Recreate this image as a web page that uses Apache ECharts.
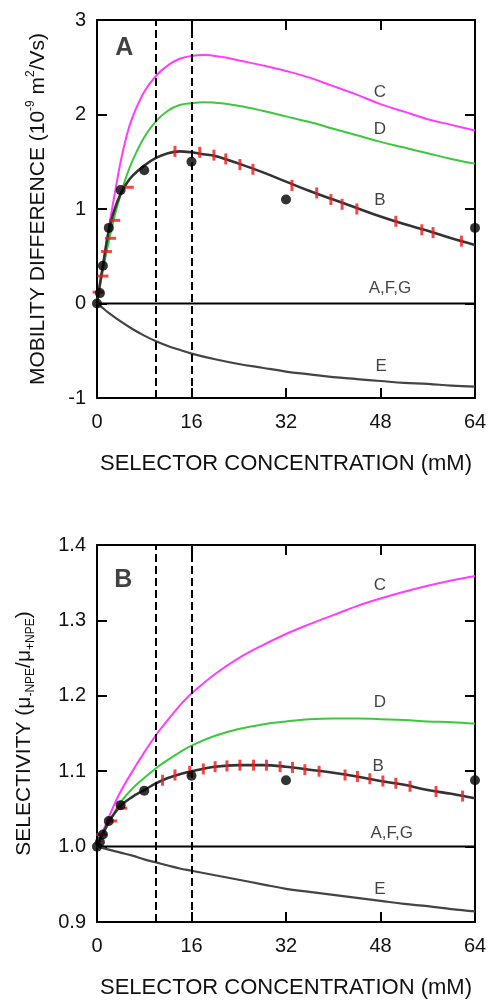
<!DOCTYPE html>
<html>
<head>
<meta charset="utf-8">
<script src="https://cdn.jsdelivr.net/npm/echarts@6/dist/echarts.min.js"></script>
<style>
  html, body { margin: 0; padding: 0; background: #fff; }
  #chart { width: 490px; height: 1000px; }
</style>
</head>
<body>
<div id="chart"></div>
<script>
// shared x axis
const concMin = 0, concMax = 64, concStep = 16;
const guideConc = [10, 16]; // dashed guide lines (mM)

// ---- panel A : mobility difference (1e-9 m2/Vs) ----
const mobC = [[0,0],[1,0.4],[2,0.8],[3,1.16],[4,1.5],[5,1.77],[6,1.97],[8,2.24],[10,2.41],[12,2.52],[14,2.59],[16,2.62],[18,2.63],[21,2.61],[25,2.56],[28,2.52],[32,2.46],[36,2.39],[40,2.3],[44,2.21],[48,2.11],[52,2.03],[56,1.95],[60,1.89],[64,1.83]];
const mobD = [[0,0],[1,0.35],[2,0.66],[3,0.93],[4,1.15],[5,1.35],[6,1.51],[8,1.76],[10,1.93],[12,2.04],[14,2.1],[16,2.12],[18,2.13],[21,2.12],[25,2.08],[28,2.04],[32,1.98],[36,1.92],[40,1.85],[44,1.78],[48,1.71],[52,1.65],[56,1.59],[60,1.53],[64,1.48]];
const mobB = [[0,0],[0.5,0.21],[1,0.4],[2,0.77],[3,1.0],[4,1.16],[5,1.27],[6,1.35],[8,1.46],[10,1.54],[12,1.59],[14,1.61],[16,1.6],[18,1.58],[20,1.56],[24,1.48],[28,1.39],[32,1.29],[36,1.19],[40,1.1],[44,1.01],[48,0.92],[52,0.84],[56,0.77],[60,0.69],[64,0.62]];
const mobE = [[0,0],[1,-0.05],[2,-0.1],[4,-0.19],[6,-0.27],[8,-0.34],[10,-0.4],[12,-0.45],[14,-0.49],[16,-0.53],[20,-0.59],[24,-0.64],[28,-0.68],[32,-0.72],[36,-0.75],[40,-0.78],[44,-0.8],[48,-0.82],[52,-0.84],[56,-0.85],[60,-0.87],[64,-0.88]];
const mobAFG = [[0,0],[64,0]];
const mobPoints = [[0,0],[0.5,0.11],[1,0.4],[2,0.8],[4,1.2],[8,1.41],[16,1.5],[32,1.1],[64,0.8]];
const mobTicksSteep = [[0.2,0.12],[1.0,0.29],[1.6,0.55],[2.3,0.69],[3.0,0.88],[5.3,1.23]];
const mobTicks = [[13.2,1.61],[17.4,1.6],[19.8,1.57],[21.8,1.53],[24.2,1.47],[26.4,1.42],[33,1.25],[37.2,1.17],[39.6,1.1],[41.5,1.05],[44,1.0],[50.6,0.87],[55,0.78],[56.9,0.75],[61.7,0.66]];
const mobLabels = [['C',47.9,2.23],['D',47.9,1.84],['B',47.9,1.095],['A,F,G',49.6,0.16],['E',48.1,-0.66]];
const mobTag = ['A', 4.6, 2.7];

// ---- panel B : selectivity ----
const selC = [[0,1.0],[1,1.02],[2,1.039],[3,1.057],[4,1.073],[6,1.1],[8,1.125],[10,1.148],[12,1.168],[14,1.187],[16,1.203],[20,1.229],[24,1.25],[28,1.267],[32,1.282],[36,1.295],[40,1.307],[44,1.319],[48,1.329],[52,1.338],[56,1.346],[60,1.353],[64,1.359]];
const selD = [[0,1.0],[1,1.016],[2,1.031],[3,1.046],[4,1.059],[6,1.077],[8,1.091],[10,1.104],[12,1.115],[14,1.125],[16,1.134],[20,1.147],[24,1.156],[28,1.162],[32,1.166],[36,1.169],[40,1.17],[44,1.17],[48,1.169],[52,1.168],[56,1.166],[60,1.165],[64,1.163]];
const selB = [[0,1.0],[0.5,1.009],[1,1.017],[2,1.033],[4,1.054],[6,1.066],[8,1.075],[10,1.084],[12,1.091],[14,1.096],[16,1.1],[20,1.106],[24,1.108],[28,1.108],[32,1.106],[36,1.102],[40,1.098],[44,1.093],[48,1.087],[52,1.082],[56,1.075],[60,1.07],[64,1.064]];
const selE = [[0,1.0],[2,0.996],[4,0.992],[6,0.988],[8,0.983],[10,0.979],[12,0.975],[14,0.971],[16,0.968],[20,0.962],[24,0.956],[28,0.95],[32,0.944],[36,0.94],[40,0.936],[44,0.932],[48,0.928],[52,0.924],[56,0.921],[60,0.917],[64,0.914]];
const selAFG = [[0,1.0],[64,1.0]];
const selPoints = [[0,1.0],[0.5,1.006],[1,1.016],[2,1.034],[4,1.055],[8,1.074],[16,1.094],[32,1.088],[64,1.088]];
const selTicksSteep = [[0.8,1.016],[2.5,1.034],[4.2,1.051]];
const selTicks = [[11.1,1.088],[13.2,1.095],[15.7,1.1],[18,1.103],[20,1.106],[22,1.107],[24.2,1.108],[26.5,1.108],[28.7,1.108],[31,1.106],[33.1,1.105],[35.2,1.102],[37.6,1.1],[42,1.095],[44.1,1.093],[46.2,1.09],[48.4,1.087],[50.6,1.084],[53,1.08],[57.4,1.073],[61.9,1.067]];
const selLabels = [['C',47.9,1.347],['D',47.9,1.192],['B',47.6,1.106],['A,F,G',49.9,1.018],['E',47.9,0.944]];
const selTag = ['B', 4.45, 1.354];

const FONT = 'Liberation Sans, Arial, sans-serif';
const INK = '#111';

const chart = echarts.init(document.getElementById('chart'));

function xAxes(g) {
  const base = {
    gridIndex: g, type: 'value', min: concMin, max: concMax, interval: concStep,
    splitLine: { show: false },
    axisLine: { onZero: false, lineStyle: { color: '#000', width: 2 } },
    axisTick: { inside: true, length: 10, lineStyle: { color: '#000', width: 2 } }
  };
  return [
    Object.assign({}, base, {
      position: 'bottom',
      axisLabel: { margin: 14, fontSize: 20, color: INK, fontFamily: FONT },
      name: 'SELECTOR CONCENTRATION (mM)', nameLocation: 'middle', nameGap: 55,
      nameTextStyle: { fontSize: 22, color: INK, fontFamily: FONT }
    }),
    Object.assign({}, base, { position: 'top', axisLabel: { show: false } })
  ];
}

function yAxes(g, min, max, step, digits, name, rich, gap) {
  const base = {
    gridIndex: g, type: 'value', min: min, max: max, interval: step,
    splitLine: { show: false },
    axisLine: { onZero: false, lineStyle: { color: '#000', width: 2 } },
    axisTick: { inside: true, length: 10, lineStyle: { color: '#000', width: 2 } }
  };
  return [
    Object.assign({}, base, {
      position: 'left',
      axisLabel: { margin: 11, fontSize: 20, color: INK, fontFamily: FONT,
        formatter: v => v.toFixed(digits) },
      name: name, nameLocation: 'middle', nameGap: gap, nameRotate: 90,
      nameTextStyle: { fontFamily: FONT, color: INK, rich: rich }
    }),
    Object.assign({}, base, { position: 'right', axisLabel: { show: false } })
  ];
}

function line(g, data, color, width, z) {
  return {
    type: 'line', xAxisIndex: g * 2, yAxisIndex: g * 2, data: data,
    showSymbol: false, smooth: 0.4, silent: true, z: z || 2,
    lineStyle: { color: color, width: width }
  };
}

function guides(g) {
  return {
    type: 'line', xAxisIndex: g * 2, yAxisIndex: g * 2, data: [], silent: true,
    markLine: {
      symbol: 'none', silent: true, label: { show: false },
      lineStyle: { color: '#000', width: 2, type: [8, 4] },
      data: guideConc.map(v => ({ xAxis: v }))
    }
  };
}

function ticks(g, data, size) {
  return {
    type: 'scatter', xAxisIndex: g * 2, yAxisIndex: g * 2, data: data, silent: true, z: 4,
    symbol: 'rect', symbolSize: size, itemStyle: { color: '#f01818' }
  };
}

function dots(g, data) {
  return {
    type: 'scatter', xAxisIndex: g * 2, yAxisIndex: g * 2, data: data, silent: true, z: 5,
    symbol: 'circle', symbolSize: 10, itemStyle: { color: '#000' }
  };
}

function texts(g, list, size, weight) {
  return {
    type: 'scatter', xAxisIndex: g * 2, yAxisIndex: g * 2, silent: true, z: 6,
    symbolSize: 0,
    data: list.map(d => ({ name: d[0], value: [d[1], d[2]] })),
    label: { show: true, position: 'inside', formatter: p => p.name,
      fontSize: size, fontWeight: weight || 'normal', color: INK, fontFamily: FONT }
  };
}

const richA = {
  t: { fontSize: 21, lineHeight: 26, fontFamily: FONT, color: INK },
  p: { fontSize: 12, lineHeight: 12, verticalAlign: 'top', fontFamily: FONT, color: INK }
};
const richB = {
  t: { fontSize: 21, lineHeight: 26, fontFamily: FONT, color: INK },
  s: { fontSize: 12, lineHeight: 12, verticalAlign: 'bottom', fontFamily: FONT, color: INK }
};

const option = {
  backgroundColor: '#fff',
  animation: false,
  grid: [
    { left: 97, top: 20, width: 378, height: 378 },
    { left: 97, top: 545, width: 378, height: 380 }
  ],
  xAxis: xAxes(0).concat(xAxes(1)),
  yAxis: yAxes(0, -1, 3, 1, 0, '{t|MOBILITY DIFFERENCE (10}{p|-9}{t| m}{p|2}{t|/Vs)}', richA, 46)
    .concat(yAxes(1, 0.9, 1.4, 0.1, 1, '{t|SELECTIVITY (μ}{s|-NPE}{t|/μ}{s|+NPE}{t|)}', richB, 60)),
  series: [
    guides(0),
    line(0, mobAFG, '#000', 2),
    line(0, mobC, '#ff3cff', 2),
    line(0, mobD, '#3cc83c', 2),
    line(0, mobE, '#444', 2.2),
    line(0, mobB, '#333', 2.6, 3),
    ticks(0, mobTicks, [3, 11]),
    ticks(0, mobTicksSteep, [11, 3]),
    dots(0, mobPoints),
    texts(0, mobLabels, 17),
    texts(0, [mobTag], 25, 'bold'),

    guides(1),
    line(1, selAFG, '#000', 2),
    line(1, selC, '#ff3cff', 2),
    line(1, selD, '#3cc83c', 2),
    line(1, selE, '#444', 2.2),
    line(1, selB, '#333', 2.6, 3),
    ticks(1, selTicks, [3, 11]),
    ticks(1, selTicksSteep, [11, 3]),
    dots(1, selPoints),
    texts(1, selLabels, 17),
    texts(1, [selTag], 25, 'bold')
  ]
};
chart.setOption(option);
</script>
</body>
</html>
